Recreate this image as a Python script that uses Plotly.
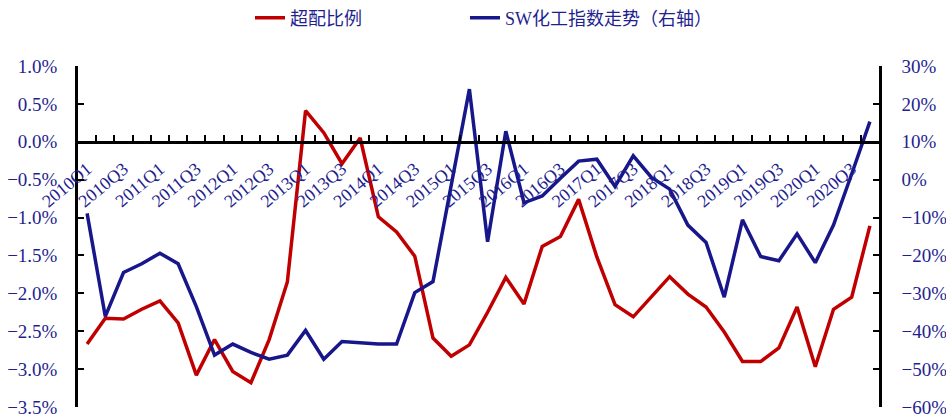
import plotly.graph_objects as go

quarters = [f"{y}Q{q}" for y in range(2010, 2021) for q in range(1, 5)]

overweight_pct = [
    -2.67, -2.33, -2.34, -2.21, -2.10, -2.39, -3.08, -2.61, -3.03, -3.18,
    -2.61, -1.85, 0.41, 0.12, -0.29, 0.05, -0.99, -1.19, -1.51, -2.59,
    -2.83, -2.68, -2.25, -1.79, -2.14, -1.38, -1.25, -0.76, -1.52, -2.15,
    -2.31, -2.04, -1.78, -2.01, -2.18, -2.51, -2.90, -2.90, -2.72, -2.18,
    -2.97, -2.21, -2.05, -1.11,
]

sw_chem_index_pct = [
    -8.9, -36.1, -24.5, -22.2, -19.4, -22.2, -33.5, -46.3, -43.4, -45.6,
    -47.4, -46.3, -39.8, -47.4, -42.7, -43.0, -43.4, -43.4, -29.8, -26.9,
    -1.5, 23.9, -16.4, 12.8, -6.1, -4.3, 0.4, 4.9, 5.4, -1.8,
    6.3, 0.6, -2.5, -12.0, -16.6, -31.0, -10.6, -20.3, -21.4, -14.3,
    -21.9, -12.0, 1.5, 15.3,
]

left_range = [-3.5, 1.0]
right_range = [-60, 30]

RED = "#C00000"
BLUE = "#17168A"
TXT = "#1F1F8F"
SERIF = "Liberation Serif"
CJK = "Liberation Serif, Noto Sans CJK SC"

idx = list(range(len(quarters)))

fig = go.Figure()
fig.add_trace(go.Scatter(
    x=idx, y=overweight_pct, name="超配比例", mode="lines",
    line=dict(color=RED, width=3.5), yaxis="y", legend="legend",
))
fig.add_trace(go.Scatter(
    x=idx, y=sw_chem_index_pct, name="SW化工指数走势（右轴）", mode="lines",
    line=dict(color=BLUE, width=3.5), yaxis="y2", legend="legend2",
))

zero_pos = (0 - left_range[0]) / (left_range[1] - left_range[0])
L, W = 78, 801


def px_to_paper(px):
    return (px - L) / W


legend_common = dict(
    orientation="h", xanchor="left",
    yref="container", y=1 - 18 / 420, yanchor="middle",
    font=dict(family=CJK, size=18, color=TXT),
    bgcolor="rgba(0,0,0,0)",
)

fig.update_layout(
    width=946, height=420,
    margin=dict(l=L, r=67, t=66, b=13, autoexpand=False),
    plot_bgcolor="white", paper_bgcolor="white",
    showlegend=True,
    legend=dict(legend_common, x=px_to_paper(250)),
    legend2=dict(legend_common, x=px_to_paper(465)),
    xaxis=dict(
        range=[-0.5, len(quarters) - 0.5],
        anchor="free", position=zero_pos,
        showline=True, linecolor="black", linewidth=2.5,
        showgrid=False, zeroline=False, automargin=False,
        tickvals=idx[::2], ticktext=quarters[::2],
        ticks="", tickangle=-40,
        tickfont=dict(family=SERIF, size=18, color=TXT),
        ticklabelstandoff=8,
        minor=dict(
            tickvals=[k - 0.5 for k in range(1, len(quarters))],
            ticks="inside", ticklen=6, tickwidth=2, tickcolor="black",
            showgrid=False,
        ),
    ),
    yaxis=dict(
        range=left_range, dtick=0.5, tick0=0,
        tickformat=".1f", ticksuffix="%",
        showline=True, linecolor="black", linewidth=2.5,
        ticks="inside", ticklen=6, tickwidth=2, tickcolor="black",
        showgrid=False, zeroline=False, automargin=False,
        tickfont=dict(family=SERIF, size=19, color=TXT),
        ticklabelstandoff=14,
    ),
    yaxis2=dict(
        range=right_range, dtick=10, tick0=0,
        tickformat="d", ticksuffix="%",
        overlaying="y", side="right", anchor="x",
        showline=True, linecolor="black", linewidth=2.5,
        ticks="inside", ticklen=6, tickwidth=2, tickcolor="black",
        showgrid=False, zeroline=False, automargin=False,
        tickfont=dict(family=SERIF, size=19, color=TXT),
        ticklabelstandoff=16,
    ),
)

fig.write_html("out.html")
